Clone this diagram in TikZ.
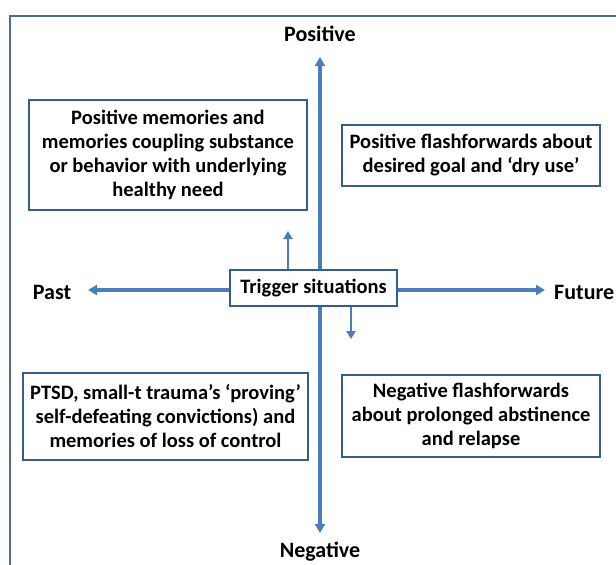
\documentclass[tikz,border=0pt]{standalone}
\usepackage{fontspec}
\setmainfont{Carlito}
\usetikzlibrary{arrows.meta}
\definecolor{axisblue}{HTML}{4A7EBB}
\definecolor{boxblue}{HTML}{385D8A}
\definecolor{frameblue}{HTML}{4F6D92}
\tikzset{
  qbox/.style={draw=boxblue, line width=1.4pt, fill=white, inner sep=0pt, align=center,
    font=\bfseries\fontsize{20.5}{24}\selectfont},
  axlabel/.style={inner sep=0pt, font=\bfseries\fontsize{22}{26}\selectfont},
  axarrow/.style={draw=axisblue, line width=3.2pt, -{Triangle[width=10pt,length=9pt]}},
  smallarrow/.style={draw=axisblue, line width=2.6pt, -{Triangle[width=9pt,length=8pt]}}
}
\begin{document}
\begin{tikzpicture}[x=1pt,y=-1pt]
\useasboundingbox (0,0) rectangle (616,565);
\fill[white] (0,0) rectangle (616,565);
\draw[frameblue, line width=2pt] (9.5,15.5) rectangle (640,600);
% axis end points
\coordinate (ctr) at (320,290);
\coordinate (top) at (320,57);
\coordinate (bot) at (320,533);
\coordinate (lft) at (88,290);
\coordinate (rgt) at (545,290);
\draw[axarrow] (ctr) -- (top);
\draw[axarrow] (ctr) -- (bot);
\draw[axarrow] (ctr) -- (lft);
\draw[axarrow] (ctr) -- (rgt);
% labels
\node[axlabel] (pos) at (320,34) {Positive};
\node[axlabel] (neg) at (320,552) {Negative};
\node[axlabel] (past) at (52,292) {Past};
\node[axlabel, anchor=west] (fut) at (554,292) {Future};
% trigger box
\node[qbox, minimum width=167pt, minimum height=36pt] (trig) at (313.5,288) {Trigger situations};
\coordinate (upend) at (288,231);
\coordinate (downend) at (351,339);
\draw[smallarrow] (trig.north -| upend) -- (upend);
\draw[smallarrow] (trig.south -| downend) -- (downend);
% quadrant boxes
\node[qbox, minimum width=278pt, minimum height=110pt] (tl) at (168,155)
  {Positive memories and\\memories coupling substance\\or behavior with underlying\\healthy need};
\node[qbox, minimum width=258pt, minimum height=61pt] (tr) at (471,155.5)
  {Positive flashforwards about\\desired goal and ‘dry use’};
\node[qbox, minimum width=285pt, minimum height=87pt] (bl) at (165.5,416.5)
  {PTSD, small-t trauma’s ‘proving’\\self-defeating convictions) and\\memories of loss of control};
\node[qbox, minimum width=258pt, minimum height=82pt] (br) at (471,416)
  {Negative flashforwards\\about prolonged abstinence\\and relapse};
\end{tikzpicture}
\end{document}
